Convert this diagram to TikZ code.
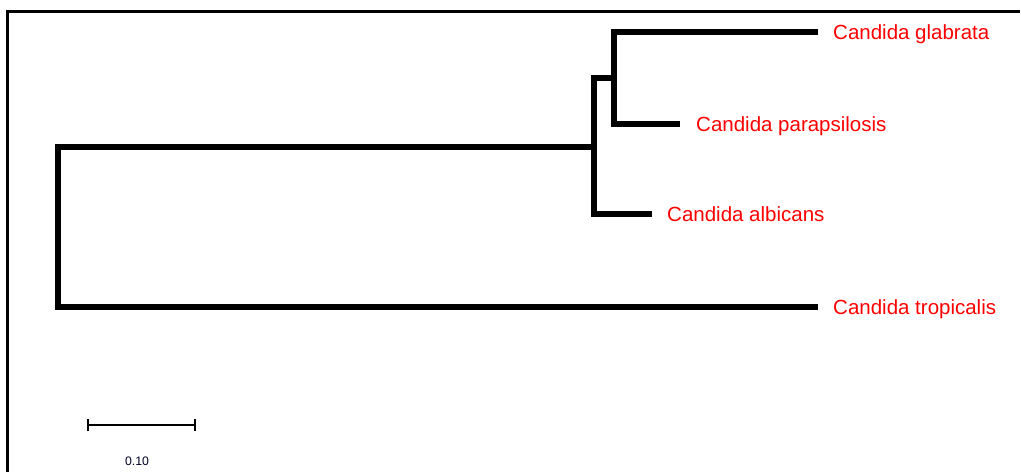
\documentclass[tikz,border=0pt]{standalone}
\usepackage{fontspec}
\setmainfont{Liberation Sans}
\begin{document}
\begin{tikzpicture}[x=1pt,y=-1pt,
  branch/.style={line width=6pt,line join=miter,line cap=butt},
  frame/.style={line width=3pt},
  taxon/.style={anchor=base west,text=red,font=\fontsize{20.5}{24}\selectfont,inner sep=0pt},
  scalebar/.style={line width=2pt},
  scalelabel/.style={font=\fontsize{12.3}{14}\selectfont,text=black!85!blue,inner sep=0pt}]
\useasboundingbox (0,0) rectangle (1021,472);
% partial frame
\draw[frame] (7,472) -- (7,11) -- (1020,11);
% internal nodes
\coordinate (root) at (58,147);
\coordinate (n1) at (594,147);
\coordinate (n2) at (614,78);
% tips
\coordinate (tglab) at (818,32);
\coordinate (tpara) at (680,124);
\coordinate (talbi) at (652,214);
\coordinate (ttrop) at (818,307);
% branches
\draw[branch] (n1) -- (root) |- (ttrop);
\draw[branch] (talbi) -| (n1 |- n2) -- (n2);
\draw[branch] (tglab) -| (n2) |- (tpara);
% taxon labels
\node[taxon] (lglab) at (833,39) {Candida glabrata};
\node[taxon] (lpara) at (696,131) {Candida parapsilosis};
\node[taxon] (lalbi) at (667,221) {Candida albicans};
\node[taxon] (ltrop) at (833,314) {Candida tropicalis};
% scale bar
\coordinate (s0) at (88,425);
\coordinate (s1) at (195,425);
\draw[scalebar] (s0) -- (s1);
\draw[scalebar] ([yshift=-6pt]s0) -- ([yshift=6pt]s0);
\draw[scalebar] ([yshift=-6pt]s1) -- ([yshift=6pt]s1);
\node[scalelabel] (slab) at (137,461) {0.10};
\end{tikzpicture}
\end{document}
